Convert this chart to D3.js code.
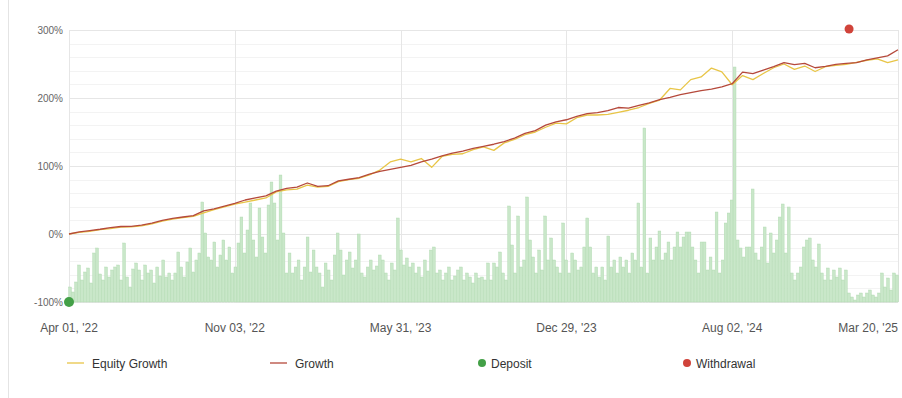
<!DOCTYPE html>
<html>
<head>
<meta charset="utf-8">
<script src="https://cdn.jsdelivr.net/npm/d3@7"></script>
<style>
  html, body { margin: 0; padding: 0; background: #fff; }
  svg { display: block; font-family: "Liberation Sans", Arial, sans-serif; }
</style>
</head>
<body>
<svg id="chart" width="902" height="398"></svg>
<script>
// x axis is evenly spaced over trading days, labels at every fifth of the span
const xTickLabels = ["Apr 01, '22", "Nov 03, '22", "May 31, '23", "Dec 29, '23", "Aug 02, '24", "Mar 20, '25"];
const yTicks = [-100, 0, 100, 200, 300];

// growth (%) sampled at 81 evenly spaced points
const growth = [
  0, 3, 5, 7, 9.5, 11, 11.3, 13, 16, 20,
  23, 25, 27, 34, 37, 41, 45, 50, 53, 56,
  63, 67, 69, 75, 70, 71, 78, 80.5, 83, 88,
  92, 95, 98, 101, 106, 110, 115, 119, 122, 126,
  129, 132, 136, 141, 148, 152, 160, 165, 168, 173,
  177, 178.5, 181.5, 186, 185, 189, 193, 197.5, 201, 205,
  208, 211, 213, 216.5, 221, 238, 236, 241, 246, 252,
  249, 251, 244.5, 246.5, 249.5, 251, 252, 256, 259, 262,
  271
];
const equity = [
  0, 2.5, 4, 6.5, 8, 10, 10.5, 12, 15, 19,
  22, 24, 26, 31, 36, 40, 44, 47, 50, 53,
  62, 65, 66, 72, 69, 70, 77, 80, 82, 87,
  94, 106, 110, 106, 111, 98, 114, 117, 118, 124,
  128, 123, 134, 139, 146, 150, 157, 163, 162, 171,
  175, 175, 176, 179, 182, 186, 192, 197, 214, 212,
  227, 231, 244, 238.5, 219.5, 233, 227, 236, 244.5, 250,
  242, 247, 239, 246, 248, 249.5, 252.5, 255.5, 257.5, 252,
  256
];
// daily activity bars (arbitrary units), 276 evenly spaced
const activity = [
  15,10,20,37,22,30,34,19,49,54,28,
  22,35,25,32,35,37,22,59,25,15,33,
  39,32,22,37,29,32,19,35,26,
  42,25,29,22,29,50,35,25,40,
  54,30,42,49,100,69,45,42,60,35,47,62,42,55,29,35,59,85,49,72,99,62,45,94,65,49,97,120,99,62,
  127,69,29,49,29,35,42,22,35,65,30,
  52,35,29,15,39,32,22,47,69,52,27,
  42,50,34,42,68,29,25,35,42,32,36,
  47,42,29,22,39,32,84,
  52,37,44,35,39,29,35,25,42,31,
  52,55,29,32,22,29,35,22,26,
  32,35,22,29,25,19,29,24,
  25,22,39,
  22,39,35,50,29,22,96,57,29,86,
  35,42,105,62,45,29,52,32,86,42,
  64,42,35,29,79,42,29,49,42,32,
  35,55,84,55,29,35,25,35,22,66,
  35,42,29,45,35,42,29,49,42,99,
  35,174,29,64,42,55,71,42,49,60,
  42,55,70,55,65,70,70,55,42,
  29,60,60,32,45,32,90,29,42,79,
  89,102,235,62,54,45,55,55,113,49,
  42,55,75,39,69,49,62,85,98,49,
  95,29,22,29,35,55,62,64,42,35,
  58,29,22,34,22,32,25,34,22,32,
  9,5,2,7,9,5,9,12,7,
  5,9,29,15,24,12,29,27
];
// cash events: position along the span (0..1) and the value they are pinned to
const deposits = [{ t: 0, v: -100 }];
const withdrawals = [{ t: 0.941, v: 300 }];

const legendItems = [
  { name: 'Equity Growth', type: 'line', color: '#e8c547', x: 67 },
  { name: 'Growth', type: 'line', color: '#b5493b', x: 270 },
  { name: 'Deposit', type: 'dot', color: '#43a047', x: 478 },
  { name: 'Withdrawal', type: 'dot', color: '#d0433a', x: 683 },
];

const L = 69, R = 898, T = 30, B = 302;
const svg = d3.select('#chart');

const x = d3.scaleLinear().domain([0, 1]).range([L, R]);
const y = d3.scaleLinear().domain([-100, 300]).range([B, T]);
const yBar = d3.scaleLinear().domain([0, 272]).range([B, T]);

// card border on the left
svg.append('line').attr('x1', 8.5).attr('x2', 8.5).attr('y1', 0).attr('y2', 398)
  .attr('stroke', '#e4e4e4');

// grid: minor every 20%, major every 100%
const grid = svg.append('g');
grid.selectAll('.minor').data(d3.range(-80, 300, 20).filter(v => v % 100 !== 0)).join('line')
  .attr('x1', L).attr('x2', R).attr('y1', d => Math.round(y(d)) + .5).attr('y2', d => Math.round(y(d)) + .5)
  .attr('stroke', '#f3f3f3');
grid.selectAll('.major').data(yTicks).join('line')
  .attr('x1', L).attr('x2', R).attr('y1', d => Math.round(y(d)) + .5).attr('y2', d => Math.round(y(d)) + .5)
  .attr('stroke', '#e6e6e6');
grid.selectAll('.vert').data(xTickLabels).join('line')
  .attr('x1', (d, i) => Math.round(x(i / 5)) + .5).attr('x2', (d, i) => Math.round(x(i / 5)) + .5)
  .attr('y1', T).attr('y2', B)
  .attr('stroke', '#e6e6e6');

// activity bars
const bx = d3.scaleLinear().domain([0, activity.length - 1]).range([L + 1, R - 1]);
svg.append('g').selectAll('rect').data(activity).join('rect')
  .attr('x', (d, i) => bx(i) - 1.4).attr('width', 2.8)
  .attr('y', d => yBar(d)).attr('height', d => B - yBar(d))
  .attr('fill', '#c9e7c9').attr('stroke', '#acd8ac').attr('stroke-width', 0.4);

// lines
const lx = d3.scaleLinear().domain([0, growth.length - 1]).range([0, 1]);
const line = d3.line().x((d, i) => x(lx(i))).y(d => y(d));
svg.append('path').datum(equity).attr('d', line)
  .attr('fill', 'none').attr('stroke', '#e8c547').attr('stroke-width', 1.3).attr('stroke-linejoin', 'round');
svg.append('path').datum(growth).attr('d', line)
  .attr('fill', 'none').attr('stroke', '#b5493b').attr('stroke-width', 1.3).attr('stroke-linejoin', 'round');

// cash events
svg.append('g').selectAll('circle').data(deposits).join('circle')
  .attr('cx', d => x(d.t)).attr('cy', d => y(d.v)).attr('r', 5).attr('fill', '#43a047');
svg.append('g').selectAll('circle').data(withdrawals).join('circle')
  .attr('cx', d => x(d.t)).attr('cy', d => y(d.v) - 1).attr('r', 4.5).attr('fill', '#d0433a');

// y labels
svg.append('g').selectAll('text').data(yTicks).join('text')
  .attr('x', 63).attr('y', d => y(d) + 3.5).attr('text-anchor', 'end')
  .attr('font-size', 10).attr('fill', '#666').text(d => d + '%');

// x labels
svg.append('g').selectAll('text').data(xTickLabels).join('text')
  .attr('x', (d, i) => i === 5 ? R : x(i / 5)).attr('y', 332)
  .attr('text-anchor', (d, i) => i === 5 ? 'end' : 'middle')
  .attr('font-size', 12).attr('fill', '#555').text(d => d);

// legend
const lg = svg.append('g').selectAll('g').data(legendItems).join('g')
  .attr('transform', d => `translate(${d.x},363)`);
lg.filter(d => d.type === 'line').append('line')
  .attr('x1', 0).attr('x2', 17).attr('y1', 0).attr('y2', 0)
  .attr('stroke', d => d.color).attr('stroke-width', 1.3);
lg.filter(d => d.type === 'dot').append('circle')
  .attr('cx', 4).attr('cy', 0).attr('r', 4).attr('fill', d => d.color);
lg.append('text').attr('x', d => d.type === 'line' ? 25 : 13).attr('y', 4.5)
  .attr('font-size', 12).attr('fill', '#333').text(d => d.name);
</script>
</body>
</html>
